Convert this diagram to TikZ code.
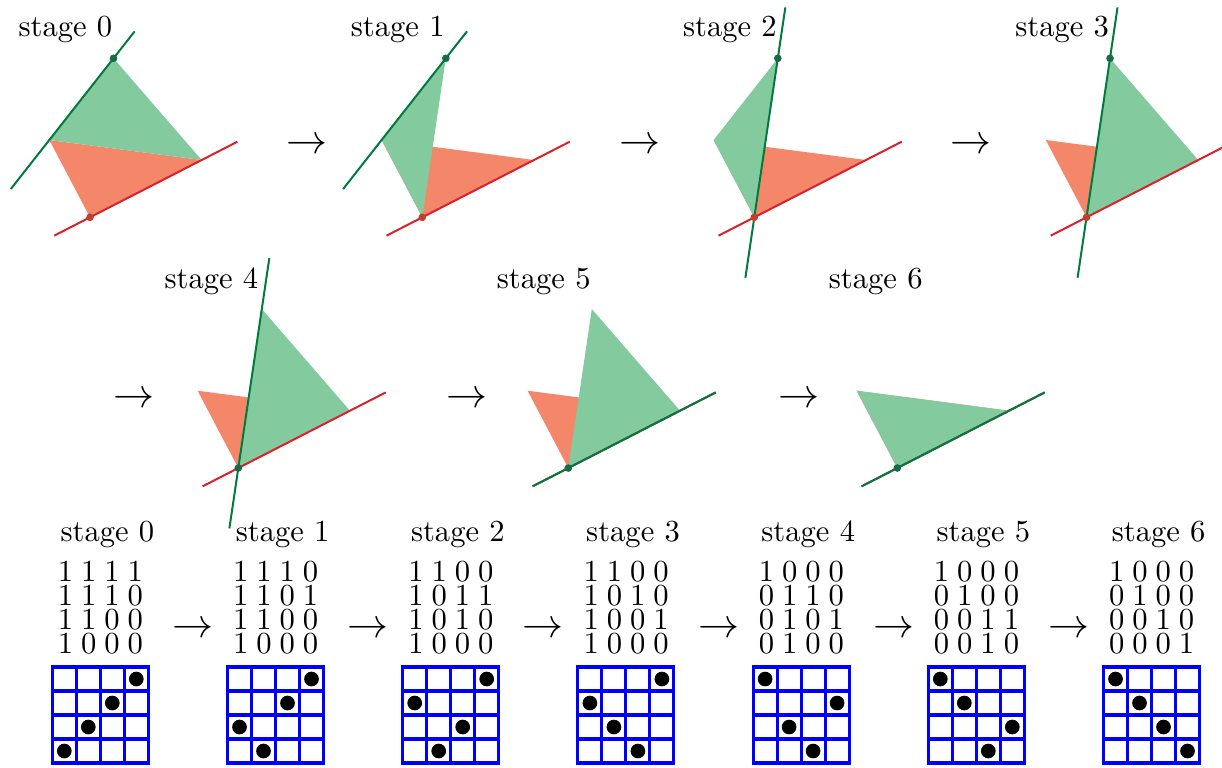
\documentclass[tikz,border=0pt]{standalone}
\usepackage{graphicx}
\usetikzlibrary{calc}
\definecolor{redfill}{RGB}{244,135,106}
\definecolor{greenfill}{RGB}{131,203,158}
\definecolor{redstroke}{RGB}{218,32,40}
\definecolor{greenstroke}{RGB}{0,122,61}
\definecolor{reddot}{RGB}{192,64,45}
\definecolor{greendot}{RGB}{22,108,70}
\newcommand{\bitsfont}{\fontsize{10}{7.88}\selectfont\setlength{\spaceskip}{2.6pt}}
\newcommand{\stepto}{\scalebox{1.34}{$\rightarrow$}}
\tikzset{
    stagelabel/.style={
        anchor=base west,inner sep=0pt,font=\fontsize{10}{12}\selectfont
    },
    stagearrow/.style={
        anchor=base,inner sep=0pt
    },
    bits/.style={
        anchor=north,inner sep=0pt,align=center,font=\bitsfont
    },
    redarea/.style={fill=redfill},
    greenarea/.style={fill=greenfill},
    redline/.style={draw=redstroke,line width=0.65pt},
    greenline/.style={draw=greenstroke,line width=0.65pt},
    redpoint/.style={fill=reddot},
    greenpoint/.style={fill=greendot},
    cellline/.style={draw=blue,line width=1pt},
    pics/perm/.style n args={4}{code={
        \draw[cellline] (0,0) rectangle (96,96);
        \draw[cellline] (24,0)--(24,96) (48,0)--(48,96) (72,0)--(72,96)
            (0,24)--(96,24) (0,48)--(96,48) (0,72)--(96,72);
        \fill (24*#1-12,12) circle (2.4pt) (24*#2-12,36) circle (2.4pt)
            (24*#3-12,60) circle (2.4pt) (24*#4-12,84) circle (2.4pt);
    }}
}
\begin{document}
\begin{tikzpicture}[x=0.3268pt,y=-0.3268pt]
\useasboundingbox (0,0) rectangle (1222,767);

% stage 0
\begin{scope}[shift={(90,217.3)}]
\coordinate (b0) at (0,0);
\coordinate (t0) at (23.5,-159);
\coordinate (l0) at (-40.7,-77.3);
\coordinate (r0) at (111.7,-57.3);
\fill[redarea] (l0)--(r0)--(b0)--cycle;
\fill[greenarea] (t0)--(l0)--(r0)--cycle;
\draw[redline] ($(b0)!-0.32!(r0)$)--($(b0)!1.32!(r0)$);
\draw[greenline] ($(t0)!-0.33!(l0)$)--($(t0)!1.6!(l0)$);
\fill[greenpoint] (t0) circle (1.25pt);
\fill[redpoint] (b0) circle (1.25pt);
\end{scope}

% stage 1
\begin{scope}[shift={(422.3,217.3)}]
\coordinate (b1) at (0,0);
\coordinate (t1) at (23.5,-159);
\coordinate (l1) at (-40.7,-77.3);
\coordinate (r1) at (111.7,-57.3);
\fill[redarea] (l1)--(r1)--(b1)--cycle;
\fill[greenarea] (t1)--(l1)--(b1)--cycle;
\draw[redline] ($(b1)!-0.32!(r1)$)--($(b1)!1.32!(r1)$);
\draw[greenline] ($(t1)!-0.33!(l1)$)--($(t1)!1.6!(l1)$);
\fill[greenpoint] (t1) circle (1.25pt);
\fill[redpoint] (b1) circle (1.25pt);
\end{scope}

% stage 2
\begin{scope}[shift={(754.3,217.3)}]
\coordinate (b2) at (0,0);
\coordinate (t2) at (23.5,-159);
\coordinate (l2) at (-40.7,-77.3);
\coordinate (r2) at (111.7,-57.3);
\fill[redarea] (l2)--(r2)--(b2)--cycle;
\fill[greenarea] (t2)--(l2)--(b2)--cycle;
\draw[redline] ($(b2)!-0.32!(r2)$)--($(b2)!1.32!(r2)$);
\draw[greenline] ($(b2)!-0.38!(t2)$)--($(b2)!1.32!(t2)$);
\fill[greenpoint] (t2) circle (1.25pt);
\fill[redpoint] (b2) circle (1.25pt);
\end{scope}

% stage 3
\begin{scope}[shift={(1086.5,217.3)}]
\coordinate (b3) at (0,0);
\coordinate (t3) at (23.5,-159);
\coordinate (l3) at (-40.7,-77.3);
\coordinate (r3) at (111.7,-57.3);
\fill[redarea] (l3)--(r3)--(b3)--cycle;
\fill[greenarea] (t3)--(r3)--(b3)--cycle;
\draw[redline] ($(b3)!-0.32!(r3)$)--($(b3)!1.32!(r3)$);
\draw[greenline] ($(b3)!-0.38!(t3)$)--($(b3)!1.32!(t3)$);
\fill[greenpoint] (t3) circle (1.25pt);
\fill[redpoint] (b3) circle (1.25pt);
\end{scope}

% stage 4
\begin{scope}[shift={(238.3,468)}]
\coordinate (b4) at (0,0);
\coordinate (t4) at (23.5,-159);
\coordinate (l4) at (-40.7,-77.3);
\coordinate (r4) at (111.7,-57.3);
\fill[redarea] (l4)--(r4)--(b4)--cycle;
\fill[greenarea] (t4)--(r4)--(b4)--cycle;
\draw[redline] ($(b4)!-0.32!(r4)$)--($(b4)!1.32!(r4)$);
\draw[greenline] ($(b4)!-0.38!(t4)$)--($(b4)!1.32!(t4)$);
\fill[greenpoint] (b4) circle (1.25pt);
\end{scope}

% stage 5
\begin{scope}[shift={(568.3,468)}]
\coordinate (b5) at (0,0);
\coordinate (t5) at (23.5,-159);
\coordinate (l5) at (-40.7,-77.3);
\coordinate (r5) at (111.7,-57.3);
\fill[redarea] (l5)--(r5)--(b5)--cycle;
\fill[greenarea] (t5)--(r5)--(b5)--cycle;
\draw[redline] ($(b5)!-0.32!(r5)$)--($(b5)!1.32!(r5)$);
\draw[greenline,yshift=0.26pt] ($(b5)!-0.32!(r5)$)--($(b5)!1.32!(r5)$);
\fill[greenpoint] (b5) circle (1.25pt);
\end{scope}

% stage 6
\begin{scope}[shift={(897.3,468)}]
\coordinate (b6) at (0,0);
\coordinate (l6) at (-40.7,-77.3);
\coordinate (r6) at (111.7,-57.3);
\fill[redarea] (l6)--(r6)--(b6)--cycle;
\fill[greenarea] (l6)--(r6)--(b6)--cycle;
\draw[redline] ($(b6)!-0.32!(r6)$)--($(b6)!1.32!(r6)$);
\draw[greenline,yshift=0.26pt] ($(b6)!-0.32!(r6)$)--($(b6)!1.32!(r6)$);
\fill[greenpoint] (b6) circle (1.25pt);
\end{scope}

\node[stagelabel] (lab0) at (18,36) {stage 0};
\node[stagelabel] (lab1) at (350.3,36) {stage 1};
\node[stagelabel] (lab2) at (682.5,36) {stage 2};
\node[stagelabel] (lab3) at (1014.7,36) {stage 3};
\node[stagelabel] (lab4) at (164,288) {stage 4};
\node[stagelabel] (lab5) at (496.3,288) {stage 5};
\node[stagelabel] (lab6) at (828.3,288) {stage 6};

\node[stagearrow] (arr01) at (307.3,153.5) {\stepto};
\node[stagearrow] (arr12) at (639.5,153.5) {\stepto};
\node[stagearrow] (arr23) at (971,153.5) {\stepto};
\node[stagearrow] (arr34) at (134,407) {\stepto};
\node[stagearrow] (arr45) at (466.5,407) {\stepto};
\node[stagearrow] (arr56) at (799,407) {\stepto};

% matrices and grids
\node[bits] (m0) at (100.5,560) {1 1 1 1\\1 1 1 0\\1 1 0 0\\1 0 0 0};
\node[bits] (m1) at (275.7,560) {1 1 1 0\\1 1 0 1\\1 1 0 0\\1 0 0 0};
\node[bits] (m2) at (450.9,560) {1 1 0 0\\1 0 1 1\\1 0 1 0\\1 0 0 0};
\node[bits] (m3) at (626.1,560) {1 1 0 0\\1 0 1 0\\1 0 0 1\\1 0 0 0};
\node[bits] (m4) at (801.3,560) {1 0 0 0\\0 1 1 0\\0 1 0 1\\0 1 0 0};
\node[bits] (m5) at (976.5,560) {1 0 0 0\\0 1 0 0\\0 0 1 1\\0 0 1 0};
\node[bits] (m6) at (1151.7,560) {1 0 0 0\\0 1 0 0\\0 0 1 0\\0 0 0 1};

\node[stagelabel] (cap0) at (60,541) {stage 0};
\node[stagelabel] (cap1) at (235.2,541) {stage 1};
\node[stagelabel] (cap2) at (410.4,541) {stage 2};
\node[stagelabel] (cap3) at (585.6,541) {stage 3};
\node[stagelabel] (cap4) at (760.8,541) {stage 4};
\node[stagelabel] (cap5) at (936,541) {stage 5};
\node[stagelabel] (cap6) at (1111.2,541) {stage 6};

\node[stagearrow] (brr01) at (193,637.3) {\stepto};
\node[stagearrow] (brr12) at (368.2,637.3) {\stepto};
\node[stagearrow] (brr23) at (543.4,637.3) {\stepto};
\node[stagearrow] (brr34) at (718.6,637.3) {\stepto};
\node[stagearrow] (brr45) at (893.8,637.3) {\stepto};
\node[stagearrow] (brr56) at (1069,637.3) {\stepto};

\pic (g0) at (52.3,667) {perm={4}{3}{2}{1}};
\pic (g1) at (227.5,667) {perm={4}{3}{1}{2}};
\pic (g2) at (402.7,667) {perm={4}{1}{3}{2}};
\pic (g3) at (577.9,667) {perm={4}{1}{2}{3}};
\pic (g4) at (753.1,667) {perm={1}{4}{2}{3}};
\pic (g5) at (928.3,667) {perm={1}{2}{4}{3}};
\pic (g6) at (1103.5,667) {perm={1}{2}{3}{4}};

\end{tikzpicture}
\end{document}
